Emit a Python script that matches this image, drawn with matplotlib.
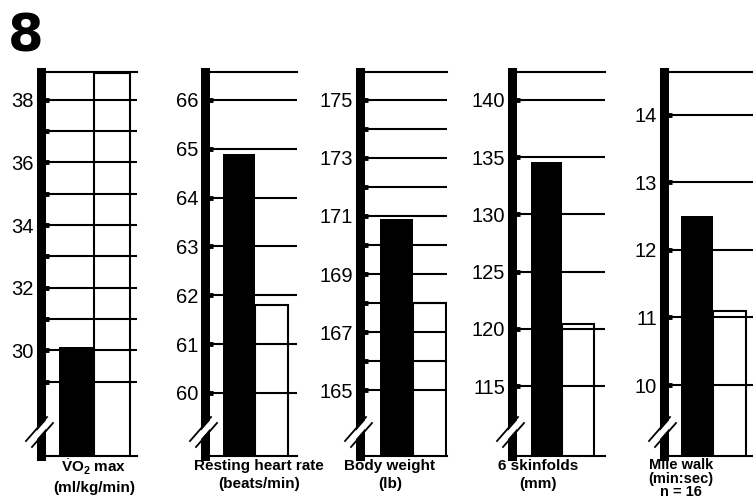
import matplotlib
matplotlib.use('Agg')
import matplotlib.pyplot as plt
from matplotlib.lines import Line2D

plt.rcParams['font.family'] = ['Liberation Sans', 'DejaVu Sans']
plt.rcParams['mathtext.fontset'] = 'custom'
plt.rcParams['mathtext.rm'] = 'Liberation Sans'
plt.rcParams['mathtext.bf'] = 'Liberation Sans:bold'

# ---------------- data ----------------
figure_number = "8"
label_lines = [
    [r"$\dot{\mathbf{V}}\mathbf{O}_{\mathbf{2}}$ max", "(ml/kg/min)"],
    ["Resting heart rate", "(beats/min)"],
    ["Body weight", "(lb)"],
    ["6 skinfolds", "(mm)"],
    ["Mile walk", "(min:sec)", "n = 16"],
]
pre_values = [30.1, 64.9, 170.9, 134.6, 12.5]     # black bars
post_values = [38.85, 61.8, 168.0, 120.4, 11.1]  # outlined bars
grid_values = [
    [29, 30, 31, 32, 33, 34, 35, 36, 37, 38],
    [60, 61, 62, 63, 64, 65, 66],
    [165, 166, 167, 168, 169, 170, 171, 172, 173, 174, 175],
    [115, 120, 125, 130, 135, 140],
    [10, 11, 12, 13, 14],
]
labeled_ticks = [
    [30, 32, 34, 36, 38],
    [60, 61, 62, 63, 64, 65, 66],
    [165, 167, 169, 171, 173, 175],
    [115, 120, 125, 130, 135, 140],
    [10, 11, 12, 13, 14],
]
y_limits = [(26.62, 38.89), (58.71, 66.57), (162.73, 175.96), (108.9, 142.44), (8.95, 14.63)]

# ---------------- layout (pixels) ----------------
W, H = 753, 499
ax_left_px = [41, 205, 360, 512, 664]
ax_right_px = [137, 297, 447, 605, 753]
ax_top_px, ax_bottom_px = 72, 456
x_limits = [(-1.0, 1.7), (-1.05, 1.78), (-1.1, 1.52), (-1.1, 1.85), (-1.02, 1.72)]
label_x_px = [94, 259, 390, 538, 681]
label_y_px = [[467, 488], [466, 484], [466, 484], [466, 484], [465, 479, 492]]
label_size = [11, 11, 11, 11, 10.5]

fig = plt.figure(figsize=(W / 100, H / 100), dpi=100)
fig.patch.set_facecolor('white')

fig.text(8 / W, 1 - 51 / H, figure_number, fontsize=37, fontweight='bold',
         family='DejaVu Sans', ha='left', va='baseline')

for i in range(5):
    l, r = ax_left_px[i], ax_right_px[i]
    ax = fig.add_axes([l / W, 1 - ax_bottom_px / H, (r - l) / W, (ax_bottom_px - ax_top_px) / H])
    ax.set_xlim(*x_limits[i])
    ax.set_ylim(*y_limits[i])

    ax.set_axisbelow(True)
    ax.yaxis.grid(True, color='black', linewidth=1.5)
    ax.xaxis.grid(False)

    ax.bar([0], [pre_values[i]], width=1.0, color='black', linewidth=0, zorder=3)
    ax.bar([1], [post_values[i]], width=1.0, facecolor='none', edgecolor='black',
           linewidth=1.5, zorder=3)

    ax.set_yticks(grid_values[i])
    ax.set_yticklabels([str(v) if v in labeled_ticks[i] else '' for v in grid_values[i]])
    ax.tick_params(axis='y', direction='in', length=6, width=3.5, color='black',
                   pad=5, labelsize=14.5, labelcolor='black')
    ax.set_xticks([])

    ax.spines['right'].set_visible(False)
    ax.spines['left'].set_linewidth(6.5)
    ax.spines['top'].set_linewidth(1.5)
    ax.spines['bottom'].set_linewidth(1.5)

    # axis break marks "//"
    x0, y0 = l - 12, ax_bottom_px - 12
    x1, y1 = l + 9, ax_bottom_px - 36
    fig.add_artist(Line2D([x0 / W, x1 / W], [1 - y0 / H, 1 - y1 / H],
                          color='white', linewidth=4, transform=fig.transFigure, zorder=10))
    for d in (-3, 3):
        fig.add_artist(Line2D([(x0 + d) / W, (x1 + d) / W], [1 - (y0 + d) / H, 1 - (y1 + d) / H],
                              color='black', linewidth=1.3, transform=fig.transFigure, zorder=11))

    for txt, ypx in zip(label_lines[i], label_y_px[i]):
        fig.text(label_x_px[i] / W, 1 - ypx / H, txt, ha='center', va='center',
                 fontsize=label_size[i], fontweight='bold')

fig.savefig('out.png', dpi=100, facecolor='white')
